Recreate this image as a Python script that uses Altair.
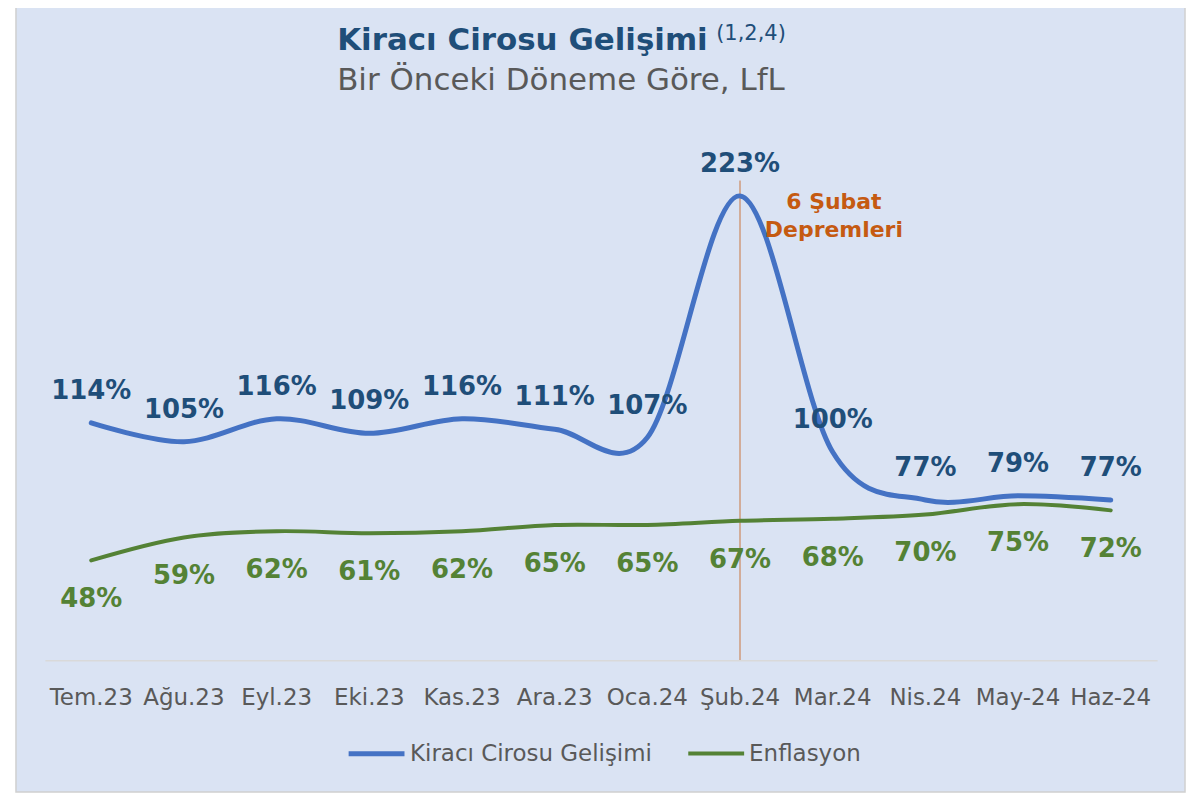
import altair as alt
import pandas as pd

months = ["Tem.23", "Ağu.23", "Eyl.23", "Eki.23", "Kas.23", "Ara.23",
          "Oca.24", "Şub.24", "Mar.24", "Nis.24", "May-24", "Haz-24"]
kiraci = [114, 105, 116, 109, 116, 111, 107, 223, 100, 77, 79, 77]
enflasyon = [48, 59, 62, 61, 62, 65, 65, 67, 68, 70, 75, 72]
series_names = ["Kiracı Cirosu Gelişimi", "Enflasyon"]
series_colors = ["#4472C4", "#548235"]
label_colors = ["#1F4E79", "#548235"]
event_month = "Şub.24"
event_text = "6 Şubat\nDepremleri"
title_text = "Kiracı Cirosu Gelişimi"
title_sup = "(1,2,4)"
subtitle_text = "Bir Önceki Döneme Göre, LfL"

df = pd.DataFrame({
    "month": months * 2,
    "value": kiraci + enflasyon,
    "series": [series_names[0]] * len(months) + [series_names[1]] * len(months),
})
df["label"] = df["value"].astype(str) + "%"

W, H = 1115, 522
FONT = "DejaVu Sans"

xenc = alt.X("month:N", sort=months,
             axis=alt.Axis(title=None, labelAngle=0, labelAlign="center", labelBaseline="top",
                           labelFontSize=23, labelColor="#595959", labelFont=FONT,
                           domainColor="#D9D9D9", domainWidth=1.5, labelBound=False,
                           ticks=False, labelPadding=26, grid=False, zindex=1))
yenc = alt.Y("value:Q", scale=alt.Scale(domain=[0, 250]), axis=None)

base = alt.Chart(df)
one = pd.DataFrame({"k": [0]})

box = alt.Chart(one).mark_rect(fill="#DAE3F3", stroke="#D0D0D0", strokeWidth=1.5).encode(
    x=alt.value(-29), x2=alt.value(1143), y=alt.value(-134), y2=alt.value(654))

rule = alt.Chart(pd.DataFrame({"month": [event_month]})).mark_rule(
    color="#C55A11", strokeWidth=1, opacity=0.8).encode(
    x=alt.X("month:N", sort=months), y=alt.value(41), y2=alt.value(H))

lines = base.mark_line(interpolate="cardinal", strokeCap="round").encode(
    x=xenc, y=yenc,
    color=alt.Color("series:N", sort=series_names,
                    scale=alt.Scale(domain=series_names, range=series_colors),
                    legend=alt.Legend(title=None, orient="none", legendX=302, legendY=585,
                                      direction="horizontal", symbolType="stroke",
                                      symbolSize=3136, symbolStrokeWidth=5,
                                      labelFontSize=23, labelColor="#595959",
                                      labelFont=FONT, labelLimit=400,
                                      columnPadding=28, labelOffset=3)),
    strokeWidth=alt.StrokeWidth("series:N", scale=alt.Scale(domain=series_names, range=[5, 4]),
                                legend=None),
)

blue_text = base.transform_filter(alt.datum.series == series_names[0]).mark_text(
    dy=-32, fontSize=26, fontWeight="bold", font=FONT, color=label_colors[0]).encode(
    x=xenc, y=yenc, text="label:N")
green_text = base.transform_filter(alt.datum.series == series_names[1]).mark_text(
    dy=39, fontSize=26, fontWeight="bold", font=FONT, color=label_colors[1]).encode(
    x=xenc, y=yenc, text="label:N")

title = alt.Chart(one).mark_text(align="left", baseline="middle", fontSize=31,
                                 fontWeight="bold", font=FONT, color="#1F4E79").encode(
    x=alt.value(293), y=alt.value(-99), text=alt.value(title_text))
sup = alt.Chart(one).mark_text(align="left", baseline="middle", fontSize=21,
                               font=FONT, color="#1F4E79").encode(
    x=alt.value(673), y=alt.value(-106), text=alt.value(title_sup))
subtitle = alt.Chart(one).mark_text(align="left", baseline="middle", fontSize=31,
                                    font=FONT, color="#595959").encode(
    x=alt.value(293), y=alt.value(-59), text=alt.value(subtitle_text))
event = alt.Chart(one).mark_text(align="center", baseline="middle", fontSize=22,
                                 fontWeight="bold", font=FONT, color="#C55A11",
                                 lineBreak="\n", lineHeight=28).encode(
    x=alt.value(791), y=alt.value(63), text=alt.value(event_text))

chart = alt.layer(box, rule, lines, blue_text, green_text, title, sup, subtitle, event).properties(
    width=W, height=H,
    padding={"left": 37, "top": 131, "right": 30, "bottom": 134},
    autosize=alt.AutoSizeParams(type="none"),
    background="white",
).configure_view(stroke=None)

chart.save("out.html", embed_options={"renderer": "svg", "actions": False})
